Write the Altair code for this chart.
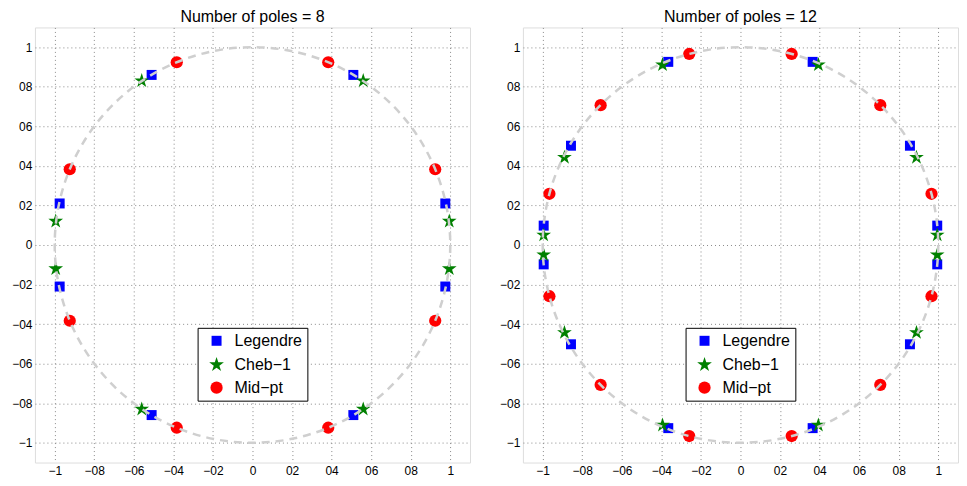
import altair as alt
import pandas as pd

FONT = "Liberation Sans"

methods = ["Legendre", "Cheb−1", "Mid−pt"]
colors = ["#0000ff", "#008000", "#ff0000"]
star = "M0,-1L0.225,-0.309L0.951,-0.309L0.363,0.118L0.588,0.809L0,0.382L-0.588,0.809L-0.363,0.118L-0.951,-0.309L-0.225,-0.309Z"
shapes = ["square", star, "circle"]
sizes = [100, 240, 150]

tick_values = [-1, -0.8, -0.6, -0.4, -0.2, 0, 0.2, 0.4, 0.6, 0.8, 1]
tick_labels = ["−1", "−08", "−06", "−04", "−02", "0", "02", "04", "06", "08", "1"]

titles = ["Number of poles = 8", "Number of poles = 12"]

# N = 8
n8_leg_x = [0.51, 0.975, 0.975, 0.51, -0.51, -0.975, -0.975, -0.51]
n8_leg_y = [0.86, 0.21, -0.21, -0.86, -0.86, -0.21, 0.21, 0.86]
n8_cheb_x = [0.56, 0.995, 0.995, 0.56, -0.56, -0.995, -0.995, -0.56]
n8_cheb_y = [0.83, 0.12, -0.12, -0.83, -0.83, -0.12, 0.12, 0.83]
n8_mid_x = [0.383, 0.924, 0.924, 0.383, -0.383, -0.924, -0.924, -0.383]
n8_mid_y = [0.924, 0.383, -0.383, -0.924, -0.924, -0.383, 0.383, 0.924]

# N = 12
n12_leg_x = [0.365, 0.857, 0.995, 0.995, 0.857, 0.365, -0.365, -0.857, -0.995, -0.995, -0.857, -0.365]
n12_leg_y = [0.926, 0.502, 0.098, -0.098, -0.502, -0.926, -0.926, -0.502, -0.098, 0.098, 0.502, 0.926]
n12_cheb_x = [0.394, 0.89, 0.995, 0.995, 0.89, 0.394, -0.394, -0.89, -0.995, -0.995, -0.89, -0.394]
n12_cheb_y = [0.911, 0.443, 0.05, -0.05, -0.443, -0.911, -0.911, -0.443, -0.05, 0.05, 0.443, 0.911]
n12_mid_x = [0.259, 0.707, 0.966, 0.966, 0.707, 0.259, -0.259, -0.707, -0.966, -0.966, -0.707, -0.259]
n12_mid_y = [0.966, 0.707, 0.259, -0.259, -0.707, -0.966, -0.966, -0.707, -0.259, 0.259, 0.707, 0.966]

W = 436
H = 436
DOMAIN = [-1.1, 1.1]


def make_df(lx, ly, cx, cy, mx, my):
    rows = []
    for x, y in zip(lx, ly):
        rows.append({"x": x, "y": y, "method": methods[0]})
    for x, y in zip(cx, cy):
        rows.append({"x": x, "y": y, "method": methods[1]})
    for x, y in zip(mx, my):
        rows.append({"x": x, "y": y, "method": methods[2]})
    return pd.DataFrame(rows)


label_expr = "[" + ",".join("'%s'" % s for s in tick_labels) + "][round((datum.value + 1) * 5)]"

axis = alt.Axis(
    values=tick_values, labelExpr=label_expr, grid=True, gridDash=[1, 3],
    gridColor="#8a8a8a", gridWidth=1, domain=False, ticks=False,
    labelFont=FONT, labelFontSize=12, labelColor="black",
    labelPadding=3, title=None,
)


def panel(df, title):
    legend = alt.Legend(
        orient="none", legendX=163, legendY=301, title=None,
        fillColor="white", strokeColor="black", padding=5,
        labelFont=FONT, labelFontSize=16, labelColor="black",
        labelOffset=10, symbolOffset=6, rowPadding=7,
        symbolStrokeWidth=0.5, symbolOpacity=1,
    )
    xs = alt.X("x:Q", scale=alt.Scale(domain=DOMAIN, nice=False, zero=False), axis=axis)
    ys = alt.Y("y:Q", scale=alt.Scale(domain=DOMAIN, nice=False, zero=False), axis=axis)
    pts = alt.Chart(df).mark_point(filled=True, opacity=1, strokeWidth=0.6).encode(
        x=xs, y=ys,
        color=alt.Color("method:N", scale=alt.Scale(domain=methods, range=colors), legend=legend),
        shape=alt.Shape("method:N", scale=alt.Scale(domain=methods, range=shapes), legend=legend),
        size=alt.Size("method:N", scale=alt.Scale(type="ordinal", domain=methods, range=sizes), legend=legend),
    )
    diam = 2 * W / (DOMAIN[1] - DOMAIN[0])
    ring = alt.Chart(pd.DataFrame({"x": [0.0], "y": [0.0]})).mark_point(
        shape="circle", size=diam * diam, filled=False, stroke="#cfcfcf",
        strokeWidth=2.5, strokeDash=[8, 6], opacity=1,
    ).encode(x=xs, y=ys)
    return alt.layer(pts, ring).properties(
        width=W, height=H,
        title=alt.TitleParams(title, font=FONT, fontSize=16, fontWeight="normal",
                              color="black", anchor="middle", offset=2),
    )


left = panel(make_df(n8_leg_x, n8_leg_y, n8_cheb_x, n8_cheb_y, n8_mid_x, n8_mid_y), titles[0])
right = panel(make_df(n12_leg_x, n12_leg_y, n12_cheb_x, n12_cheb_y, n12_mid_x, n12_mid_y), titles[1])

chart = alt.hconcat(left, right, spacing=28).resolve_scale(
    color="independent", shape="independent", size="independent"
).resolve_legend(
    color="independent", shape="independent", size="independent"
).properties(
    padding={"left": 3, "top": 0, "right": 0, "bottom": 0}
).configure_view(stroke="black", strokeWidth=1.5).configure(background="white")

chart.save("out.html", embed_options={"renderer": "svg", "actions": False})
